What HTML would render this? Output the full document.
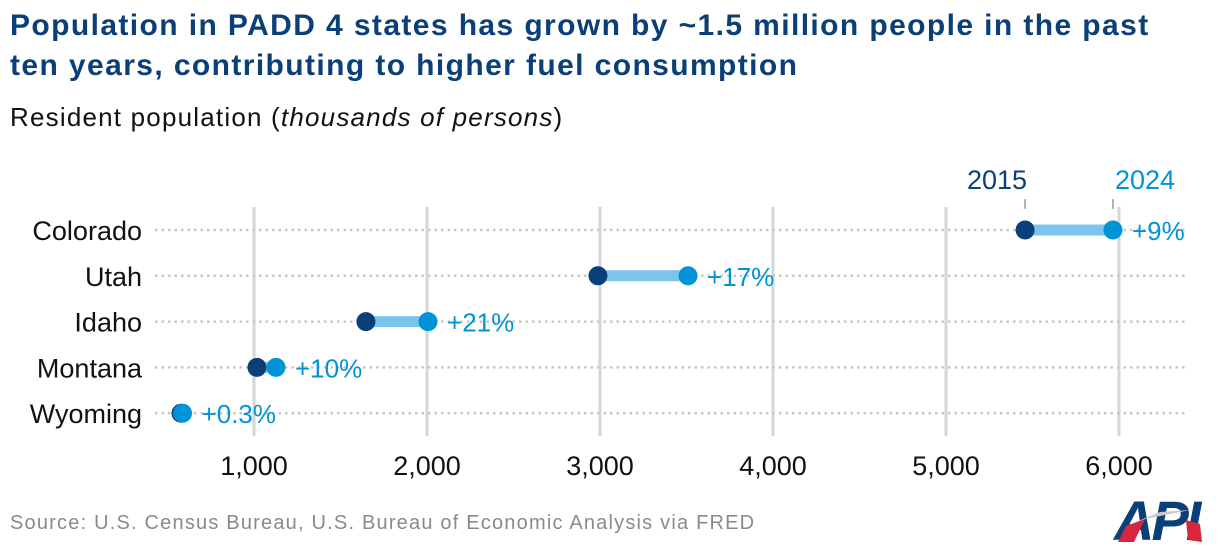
<!DOCTYPE html>
<html><head><meta charset="utf-8"><style>
body{margin:0;width:1220px;height:554px;background:#fff;overflow:hidden;font-family:"Liberation Sans",sans-serif;}
#title{position:absolute;left:10px;top:6px;font-size:30px;font-weight:bold;color:#0b3f77;line-height:40px;letter-spacing:1.4px;white-space:nowrap}
#sub{position:absolute;left:10px;top:102px;font-size:26px;color:#111;letter-spacing:1.2px}
#src{position:absolute;left:10px;top:512px;font-size:20px;color:#8a8a8a;letter-spacing:1.2px;white-space:nowrap}
svg{position:absolute;left:0;top:0}
</style></head><body>
<div id="title">Population in PADD 4 states has grown by ~1.5 million people in the past<br>ten years, contributing to higher fuel consumption</div>
<div id="sub">Resident population (<i>thousands of persons</i>)</div>
<div id="src">Source: U.S. Census Bureau, U.S. Bureau of Economic Analysis via FRED</div>
<svg id="chart" width="1220" height="554">
<g>
<text x="1114" y="540" font-size="56" font-weight="bold" font-style="italic" fill="#0b3f77" letter-spacing="-3" font-family="Liberation Sans, sans-serif">API</text>
<polygon points="1118,542 1126,526 1145,519 1134,542" fill="#d7263d"/>
<polygon points="1126,526 1160,512 1190,510 1145,519" fill="#c8c8c8"/>
<polygon points="1186,520 1200,524 1202,542 1188,540" fill="#d7263d"/>
</g>
</svg>
<script>
const states=["Colorado","Utah","Idaho","Montana","Wyoming"];
const v2015=[5457,2988,1647,1017,578];
const v2024=[5965,3509,2006,1127,587];
const pct=["+9%","+17%","+21%","+10%","+0.3%"];
const ticks=[1000,2000,3000,4000,5000,6000];
const tickLabels=["1,000","2,000","3,000","4,000","5,000","6,000"];
const NS="http://www.w3.org/2000/svg";
const svg=document.getElementById('chart');
const x=v=>81+v*0.173;
const y=i=>230+i*45.8;
function mk(t,a,txt){const e=document.createElementNS(NS,t);for(const k in a)e.setAttribute(k,a[k]);if(txt!=null)e.textContent=txt;svg.insertBefore(e,svg.lastElementChild);return e;}
ticks.forEach((t,i)=>{
  let g=mk('line',{x1:x(t),x2:x(t),y1:207,y2:436,stroke:'#d6d6d6','stroke-width':3});
  
  
  let l=mk('text',{x:x(t),y:475,'text-anchor':'middle','font-size':27,fill:'#111'},tickLabels[i]);
  
  
});
states.forEach((s,i)=>{
  let r=mk('line',{x1:155,x2:1186,y1:y(i),y2:y(i),stroke:'#c8c8c8','stroke-width':2.5,'stroke-dasharray':'2.5 4'});
  
  
  let lb=mk('text',{x:142,y:y(i)+10,'text-anchor':'end','font-size':27,fill:'#111'},s);
  
  
  let c=mk('line',{x1:x(v2015[i]),x2:x(v2024[i]),y1:y(i),y2:y(i),stroke:'#7cc4ea','stroke-width':11});
  
  
  let d1=mk('circle',{cx:x(v2015[i]),cy:y(i),r:9.5,fill:'#0b3f77'});
  
  
  let d2=mk('circle',{cx:x(v2024[i]),cy:y(i),r:9.5,fill:'#0094d6'});
  
  
  let p=mk('text',{x:x(v2024[i])+19,y:y(i)+10,'font-size':26,fill:'#0094d6'},pct[i]);
  
  
});
const l1=mk('text',{x:x(v2015[0])+2,y:189,'text-anchor':'end','font-size':27,fill:'#0b3f77'},'2015');


const l2=mk('text',{x:x(v2024[0])+2,y:189,'text-anchor':'start','font-size':27,fill:'#0094d6'},'2024');


[v2015[0],v2024[0]].forEach(v=>{
  let t=mk('line',{x1:x(v),x2:x(v),y1:199,y2:209,stroke:'#999','stroke-width':1.5});
  
  
});
</script>
</body></html>
